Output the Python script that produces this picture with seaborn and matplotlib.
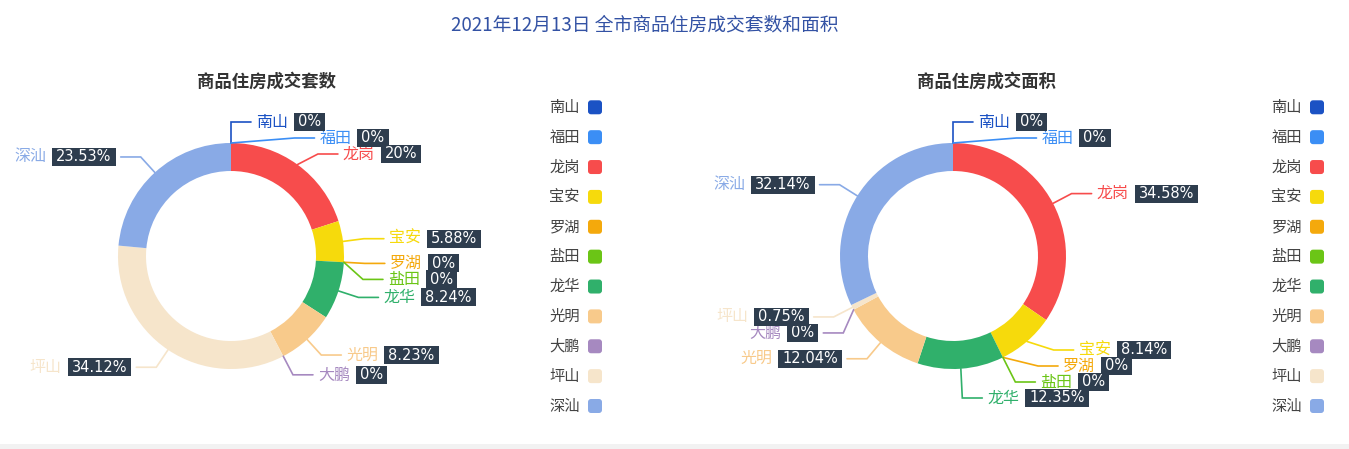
import numpy as np
import matplotlib
matplotlib.use("Agg")
import matplotlib.pyplot as plt
import seaborn as sns
from matplotlib.path import Path
from matplotlib.patches import FancyBboxPatch, Rectangle

# ---------------- data ----------------
districts = ['南山', '福田', '龙岗', '宝安', '罗湖', '盐田', '龙华', '光明', '大鹏', '坪山', '深汕']
units_pct = [0, 0, 20, 5.88, 0, 0, 8.24, 8.23, 0, 34.12, 23.53]
area_pct = [0, 0, 34.58, 8.14, 0, 0, 12.35, 12.04, 0, 0.75, 32.14]
district_colors = ['#1b52c4', '#3b8ef5', '#f74c4c', '#f6da0c', '#f4a90c', '#6bc516',
                   '#30b06b', '#f8ca8b', '#a689c0', '#f6e5cb', '#89aae6']
main_title = '2021年12月13日 全市商品住房成交套数和面积'
sub_titles = ['商品住房成交套数', '商品住房成交面积']

# ---------------- style ----------------
sns.set_theme(style='white')
plt.rcParams['font.family'] = ['Noto Sans CJK SC', 'DejaVu Sans']
palette = sns.color_palette(district_colors)

W, H = 1349, 449
R_OUT, R_IN = 113, 85
LEN1, LEN2, GAP = 21, 20, 5
LINE_H = 16
Y_MAX = 398
BOX_BG = '#2e3d4e'

fig = plt.figure(figsize=(W / 100, H / 100), dpi=100)
ax = fig.add_axes([0, 0, 1, 1])


def value_box(x0, y0, width, height, mutation_size):
    px, py = 4.0, 1.5
    return Path([(x0 - px, y0 - py), (x0 + width + px, y0 - py),
                 (x0 + width + px, y0 + height + py), (x0 - px, y0 + height + py),
                 (x0 - px, y0 - py)], closed=True)


def recalc_x(side, cx, cy, d):
    rA = R_OUT + LEN1
    semis = {True: [], False: []}
    for it in side:
        semis[it['y'] > cy].append(it)
    for lst in semis.values():
        if not lst:
            continue
        ref = max(lst, key=lambda t: abs(t['y'] - cy))
        dy = abs(ref['y'] - cy)
        dx = ref['ex'] - cx
        rB = np.sqrt(dy ** 2 / (1 - dx ** 2 / rA ** 2)) if abs(dx) < rA * 0.9999 else rA
        for it in lst:
            dyi = abs(it['y'] - cy)
            dxi = np.sqrt(max(0.0, 1 - dyi ** 2 / rB ** 2)) * rA
            it['ex'] = cx + d * dxi
            it['x'] = it['ex'] + d * LEN2


def layout_labels(values, cx, cy):
    vals = np.asarray(values, float)
    total = vals.sum()
    cum = np.concatenate([[0], np.cumsum(vals)[:-1]])
    mids = np.deg2rad((cum + vals / 2) / total * 360)
    rA = R_OUT + LEN1
    items = []
    for i, th in enumerate(mids):
        sx, sy = np.sin(th), -np.cos(th)
        d = 1 if sx >= -1e-9 else -1
        it = dict(i=i, dir=d, p1=(cx + R_OUT * sx, cy + R_OUT * sy),
                  ex=cx + rA * sx, y=cy + rA * sy)
        it['x'] = it['ex'] + d * LEN2
        items.append(it)
    for d in (1, -1):
        side = sorted([it for it in items if it['dir'] == d], key=lambda t: t['y'])
        if len(side) < 2:
            continue
        adjusted = False
        for k in range(1, len(side)):
            lo = side[k - 1]['y'] + LINE_H
            if side[k]['y'] < lo:
                side[k]['y'] = lo
                adjusted = True
        if side[-1]['y'] > Y_MAX:
            side[-1]['y'] = Y_MAX
            adjusted = True
            for k in range(len(side) - 2, -1, -1):
                side[k]['y'] = min(side[k]['y'], side[k + 1]['y'] - LINE_H)
        if adjusted:
            recalc_x(side, cx, cy, d)
    return items


def draw_donut(values, cx, cy, subtitle, sub_x, legend_x):
    ax.pie(values, colors=palette, startangle=-90, counterclock=True,
           radius=R_OUT, center=(cx, cy),
           wedgeprops=dict(width=R_OUT - R_IN, linewidth=0, edgecolor='none'))
    items = layout_labels(values, cx, cy)
    for it in items:
        i = it['i']
        col = palette[i]
        ax.plot([it['p1'][0], it['ex'], it['x']], [it['p1'][1], it['y'], it['y']],
                color=col, lw=1.2, zorder=3, solid_joinstyle='miter')
        val_txt = f"{values[i]:g}%"
        if it['dir'] > 0:
            name = ax.annotate(districts[i], xy=(it['x'], it['y']), xytext=(GAP, 0),
                               textcoords='offset pixels', ha='left', va='center',
                               fontsize=11.5, color=col, zorder=5)
            ax.annotate(val_txt, xy=(1, 0.5), xycoords=name, xytext=(10, 0),
                        textcoords='offset pixels', ha='left', va='center',
                        fontsize=10.5, color='white', family='DejaVu Sans', zorder=6,
                        bbox=dict(boxstyle=value_box, fc=BOX_BG, ec='none'))
        else:
            val = ax.annotate(val_txt, xy=(it['x'], it['y']), xytext=(-(GAP + 4), 0),
                              textcoords='offset pixels', ha='right', va='center',
                              fontsize=10.5, color='white', family='DejaVu Sans', zorder=6,
                              bbox=dict(boxstyle=value_box, fc=BOX_BG, ec='none'))
            ax.annotate(districts[i], xy=(0, 0.5), xycoords=val, xytext=(-10, 0),
                        textcoords='offset pixels', ha='right', va='center',
                        fontsize=11.5, color=col, zorder=5)
    ax.text(sub_x, 82, subtitle, ha='center', va='center', fontsize=12.5,
            fontweight='bold', color='#333333')
    # legend
    y0, step = 107.3, 29.87
    for k, name in enumerate(districts):
        y = y0 + k * step
        ax.add_patch(FancyBboxPatch((legend_x - 7, y - 7), 14, 14,
                                    boxstyle='round,pad=0,rounding_size=3',
                                    fc=palette[k], ec='none', zorder=4))
        ax.text(legend_x - 15, y, name, ha='right', va='center', fontsize=11,
                color='#444444')


draw_donut(units_pct, 231, 256, sub_titles[0], 266, 595)
draw_donut(area_pct, 953, 256, sub_titles[1], 987, 1317)

ax.text(645, 25, main_title, ha='center', va='center', fontsize=13.5, color='#3352a4')
ax.add_patch(Rectangle((0, 444), W, 5, fc='#f2f2f2', ec='none', zorder=0))

ax.set_xlim(0, W)
ax.set_ylim(H, 0)
ax.set_aspect('auto')
ax.axis('off')

fig.savefig('out.png', dpi=100)
